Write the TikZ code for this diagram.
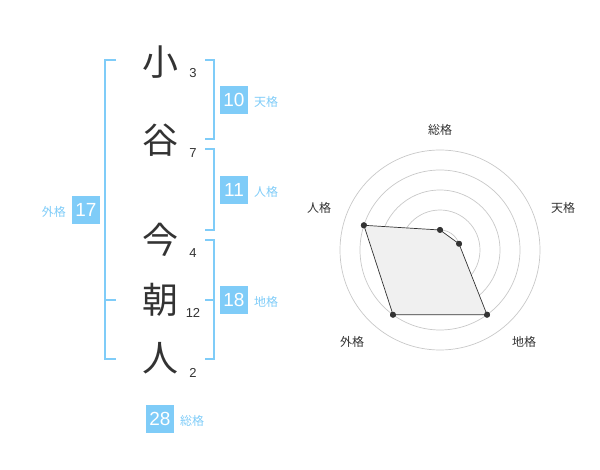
\documentclass[tikz,border=0pt]{standalone}
\usepackage{fontspec}
\setmainfont{Liberation Sans}
\newfontfamily\cjk{Noto Sans CJK JP}
\definecolor{kblue}{RGB}{127,204,248}
\definecolor{kdark}{RGB}{51,51,51}
\definecolor{kring}{RGB}{200,200,200}
\begin{document}
\begin{tikzpicture}[x=1pt,y=-1pt,
  bigchar/.style={font=\cjk\fontsize{36}{36}\selectfont, text=kdark, inner sep=0pt},
  stroke/.style={font=\fontsize{13}{13}\selectfont, text=kdark, inner sep=0pt},
  kbox/.style={fill=kblue, text=white, minimum width=28pt, minimum height=28pt, inner sep=0pt, font=\fontsize{19}{19}\selectfont},
  klabel/.style={font=\cjk\fontsize{12}{12}\selectfont, text=kblue, inner sep=0pt},
  bracket/.style={draw=kblue, line width=1.6pt},
  ring/.style={draw=kring, line width=0.7pt},
  rlabel/.style={font=\cjk\fontsize{12}{12}\selectfont, text=kdark, inner sep=0pt},
  dot/.style={circle, fill=kdark, inner sep=0pt, minimum size=6pt}]
\useasboundingbox (0,0) rectangle (600,470);
% name characters
\node[bigchar] (c1) at (160,62) {小};
\node[bigchar] (c2) at (160,140) {谷};
\node[bigchar] (c3) at (160,240) {今};
\node[bigchar] (c4) at (160,300) {朝};
\node[bigchar] (c5) at (160,358) {人};
\node[stroke] (s1) at (193,73) {3};
\node[stroke] (s2) at (193,153) {7};
\node[stroke] (s3) at (193,253) {4};
\node[stroke] (s4) at (193,313) {12};
\node[stroke] (s5) at (193,373) {2};
% brackets
\coordinate (lt) at (116,60);
\coordinate (lb) at (116,359);
\coordinate (lm) at (116,300);
\draw[bracket] (lt) -- (105,60) -- (105,359) -- (lb);
\draw[bracket] (105,300) -- (lm);
\draw[bracket] (205,60) -- (214,60) -- (214,139) -- (205,139);
\draw[bracket] (205,149) -- (214,149) -- (214,230) -- (205,230);
\draw[bracket] (205,240) -- (214,240) -- (214,359) -- (205,359);
\draw[bracket] (205,300) -- (214,300);
% boxes
\node[kbox] (b10) at (234,100) {10};
\node[klabel, anchor=west] (l10) at (254,102) {天格};
\node[kbox] (b11) at (234,190) {11};
\node[klabel, anchor=west] (l11) at (254,192) {人格};
\node[kbox] (b18) at (234,300) {18};
\node[klabel, anchor=west] (l18) at (254,302) {地格};
\node[kbox] (b17) at (86,210) {17};
\node[klabel, anchor=east] (l17) at (66,212) {外格};
\node[kbox] (b28) at (160,419) {28};
\node[klabel, anchor=west] (l28) at (180,421) {総格};
% radar
\coordinate (O) at (440,250);
\foreach \r in {20,40,60,80,100} \draw[ring] (O) circle (\r);
\fill[kring] (O) circle (3);
\node[dot] (p1) at (440,230) {};
\node[dot] (p2) at (459.0,243.8) {};
\node[dot] (p3) at (487.0,314.7) {};
\node[dot] (p4) at (393.0,314.7) {};
\node[dot] (p5) at (363.9,225.3) {};
\fill[black!6] (p1.center) -- (p2.center) -- (p3.center) -- (p4.center) -- (p5.center) -- cycle;
\draw[kdark, line width=0.7pt] (p1.center) -- (p2.center) -- (p3.center) -- (p4.center) -- (p5.center) -- cycle;
\foreach \p in {p1,p2,p3,p4,p5} \fill[kdark] (\p) circle (3);
\node[rlabel] (r1) at (440,130) {総格};
\node[rlabel] (r2) at (563,208) {天格};
\node[rlabel] (r3) at (524,342) {地格};
\node[rlabel] (r4) at (352,342) {外格};
\node[rlabel] (r5) at (319,208) {人格};
\end{tikzpicture}
\end{document}
